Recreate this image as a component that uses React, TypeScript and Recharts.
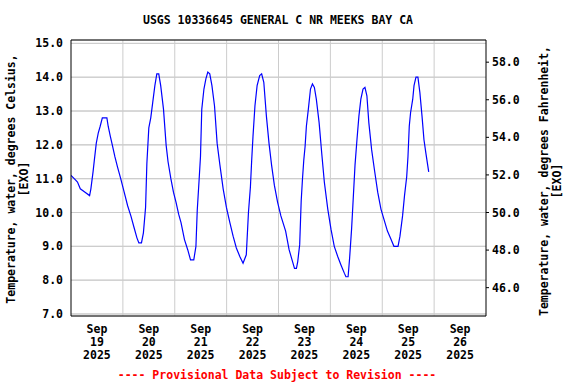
import React from 'react';
import {
  LineChart,
  Line,
  XAxis,
  YAxis,
  CartesianGrid,
  ReferenceLine,
} from 'recharts';

// hours since Sep 19 2025 00:00
const hours = [
  0, 1.5, 3, 4.3, 6.5, 8.6, 9.2, 10.2, 10.8, 11.7, 12.6, 13.5, 14.5, 16.6, 17.2, 18.2, 19.1, 20.3, 21.5, 23,
  24.6, 26.2, 27.7, 29.2, 30.5, 31.4, 32.6, 33.5, 34.5, 35.1, 36, 36.9, 37.8, 38.8, 39.7, 40.6, 41.5, 42.8, 44, 44.9, 46.2, 47.4,
  48.6, 49.8, 50.9, 52.5, 54, 55.3, 56.8, 57.8, 58.4, 59.3, 59.9, 60.5, 61.5, 62.4, 63.3, 64.2, 65.2, 66.4, 67.6, 68.9, 70.4, 71.9,
  73.5, 75, 76.5, 78.1, 79.6, 81.1, 82.1, 83, 83.6, 84.2, 85.1, 86.1, 87.3, 88.2, 89.2, 90.4, 91.6, 92.8, 94.1, 95.6,
  97.1, 99.3, 100.9, 102.5, 103.4, 104.3, 104.9, 105.8, 106.5, 107.1, 107.7, 108.3, 108.9, 109.8, 110.8, 111.7, 112.6, 113.5, 114.8, 116, 117.2, 118.8,
  120.3, 121.8, 123.4, 124.9, 126.5, 127.2, 128.2, 128.9, 129.8, 130.4, 131.4, 132.3, 133.2, 134.1, 135.1, 136, 136.9, 137.8, 139.1, 140.3, 141.9, 143.4,
  145, 146.4, 147.9, 149.4, 151.3, 152.2, 153.4, 154.3, 155.3, 155.9, 156.5, 157.1, 158.1, 158.7, 159.6, 160.5, 161.4, 162.4, 163.3, 164.2, 165.5,
];

const tempC = [
  11.1, 11.0, 10.9, 10.7, 10.6, 10.5, 10.7, 11.2, 11.55, 12.05, 12.35, 12.55, 12.8, 12.8, 12.55, 12.25, 12.0, 11.65, 11.35, 11.0,
  10.6, 10.2, 9.9, 9.55, 9.25, 9.1, 9.1, 9.4, 10.15, 11.45, 12.5, 12.8, 13.25, 13.75, 14.1, 14.1, 13.75, 13.05, 12.0, 11.5, 11.0, 10.6,
  10.3, 9.95, 9.7, 9.2, 8.9, 8.6, 8.6, 9.0, 10.05, 11.0, 11.65, 13.05, 13.65, 13.95, 14.15, 14.1, 13.75, 13.15, 12.05, 11.4, 10.7, 10.15,
  9.7, 9.3, 8.95, 8.7, 8.5, 8.75, 10.0, 10.75, 11.55, 12.25, 13.15, 13.75, 14.05, 14.1, 13.85, 12.85, 12.05, 11.4, 10.8, 10.3,
  9.9, 9.45, 8.9, 8.55, 8.35, 8.35, 8.55, 9.05, 10.35, 11.0, 11.55, 11.95, 12.55, 13.05, 13.65, 13.8, 13.7, 13.35, 12.65, 11.75, 10.9, 10.1,
  9.5, 9.0, 8.7, 8.45, 8.2, 8.1, 8.1, 8.65, 9.5, 10.2, 11.4, 12.15, 12.85, 13.35, 13.65, 13.7, 13.45, 12.65, 11.85, 11.3, 10.6, 10.1,
  9.75, 9.45, 9.23, 9.0, 9.0, 9.3, 9.9, 10.5, 11.05, 11.65, 12.55, 12.95, 13.35, 13.75, 14.0, 14.0, 13.55, 12.85, 12.15, 11.75, 11.2,
];

const dayLabels = ['19', '20', '21', '22', '23', '24', '25', '26'];
const dayTicks = [12, 36, 60, 84, 108, 132, 156, 180];
const dayBoundaries = [24, 48, 72, 96, 120, 144, 168];
const celsiusTicks = [7, 8, 9, 10, 11, 12, 13, 14, 15];
const fahrenheitTicks = [46, 48, 50, 52, 54, 56, 58];

const cMin = 6.94;
const cMax = 15.1;
const toF = (c: number) => c * 1.8 + 32;

const data = hours.map((h, i) => ({ hour: h, c: tempC[i], f: toF(tempC[i]) }));

const FONT = '"DejaVu Sans Mono", monospace';
const textStyle = { fontFamily: FONT, fontWeight: 'bold' as const, fontSize: 11.5, fill: '#000' };

const DayTick = (props: any) => {
  const { x, y, payload } = props;
  const idx = dayTicks.indexOf(payload.value);
  return (
    <g>
      <text x={x} y={y + 9} textAnchor="middle" style={textStyle}>Sep</text>
      <text x={x} y={y + 22} textAnchor="middle" style={textStyle}>{dayLabels[idx]}</text>
      <text x={x} y={y + 35} textAnchor="middle" style={textStyle}>2025</text>
    </g>
  );
};

export default function App() {
  return (
    <div style={{ position: 'absolute', left: 0, top: 0, width: 576, height: 384, background: '#fff' }}>
      <LineChart
        width={576}
        height={384}
        data={data}
        margin={{ top: 40, right: 30, bottom: 18, left: 11 }}
      >
        <CartesianGrid yAxisId="left" vertical={false} stroke="#cccccc" strokeWidth={1} />
        {celsiusTicks.map((t) => (
          <ReferenceLine key={'h' + t} y={t} yAxisId="left" stroke="#cccccc" strokeWidth={1} />
        ))}
        {dayBoundaries.map((d) => (
          <ReferenceLine key={d} x={d} yAxisId="left" stroke="#cccccc" strokeWidth={1} />
        ))}
        <ReferenceLine y={cMax} yAxisId="left" stroke="#000" strokeWidth={1} />
        <XAxis
          dataKey="hour"
          type="number"
          domain={[0, 192]}
          ticks={dayTicks}
          tickLine={false}
          tick={<DayTick />}
          height={50}
          axisLine={{ stroke: '#000' }}
          allowDataOverflow
        />
        <YAxis
          yAxisId="left"
          domain={[cMin, cMax]}
          ticks={celsiusTicks}
          tickFormatter={(v: number) => v.toFixed(1)}
          tickLine={false}
          tick={textStyle}
          width={60}
          axisLine={{ stroke: '#000' }}
          allowDataOverflow
        />
        <YAxis
          yAxisId="right"
          orientation="right"
          domain={[toF(cMin), toF(cMax)]}
          ticks={fahrenheitTicks}
          tickFormatter={(v: number) => v.toFixed(1)}
          tickSize={3}
          tickMargin={3}
          tickLine={{ stroke: '#000' }}
          tick={textStyle}
          width={60}
          axisLine={{ stroke: '#000' }}
          allowDataOverflow
        />
        <Line
          yAxisId="right"
          dataKey="f"
          stroke="none"
          dot={false}
          activeDot={false}
          isAnimationActive={false}
        />
        <Line
          yAxisId="left"
          dataKey="c"
          type="linear"
          stroke="#0000ff"
          strokeWidth={1.2}
          dot={false}
          activeDot={false}
          isAnimationActive={false}
        />
      </LineChart>
      <svg
        width={576}
        height={384}
        style={{ position: 'absolute', left: 0, top: 0, pointerEvents: 'none' }}
      >
        <text x={278} y={24} textAnchor="middle" style={textStyle}>
          USGS 10336645 GENERAL C NR MEEKS BAY CA
        </text>
        <g transform="translate(15,179) rotate(-90)">
          <text x={0} y={0} textAnchor="middle" style={textStyle}>
            Temperature, water, degrees Celsius,
          </text>
          <text x={0} y={13} textAnchor="middle" style={textStyle}>[EXO]</text>
        </g>
        <g transform="translate(548,181) rotate(-90)">
          <text x={0} y={0} textAnchor="middle" style={textStyle}>
            Temperature, water, degrees Fahrenheit,
          </text>
          <text x={0} y={13} textAnchor="middle" style={textStyle}>[EXO]</text>
        </g>
        <text x={277} y={379} textAnchor="middle" style={{ ...textStyle, fill: '#ff0000' }}>
          ---- Provisional Data Subject to Revision ----
        </text>
      </svg>
    </div>
  );
}
